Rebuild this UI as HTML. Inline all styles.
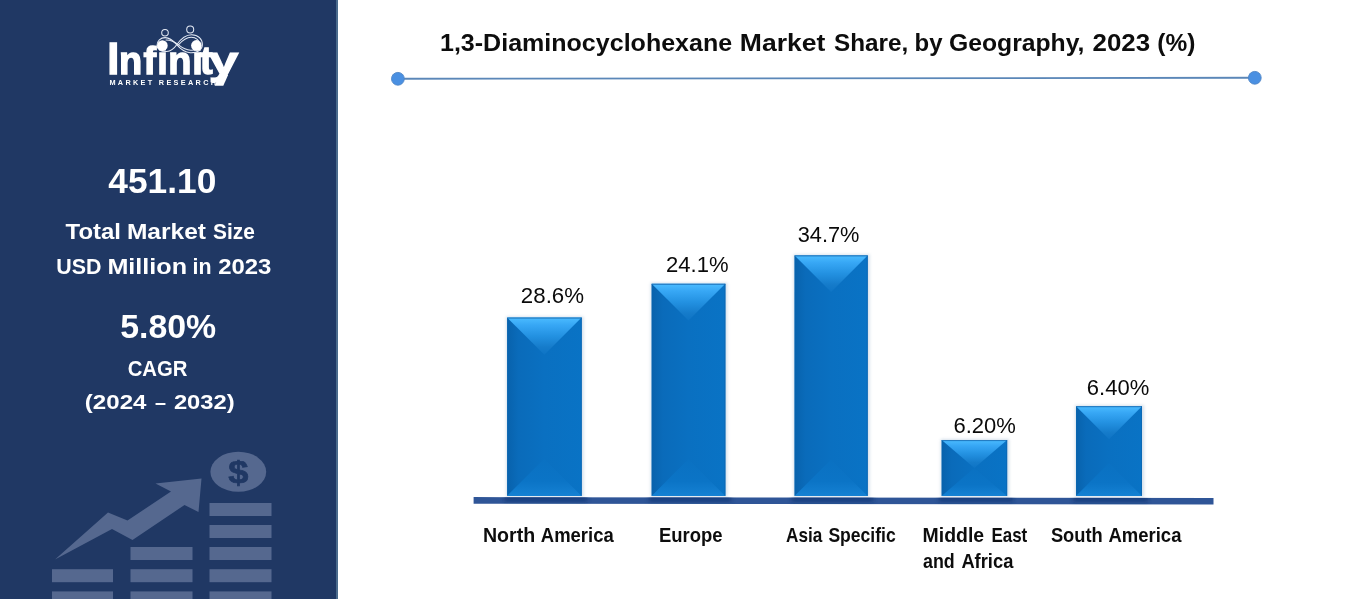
<!DOCTYPE html>
<html lang="en">
<head>
<meta charset="utf-8">
<title>1,3-Diaminocyclohexane Market Share, by Geography, 2023 (%)</title>
<style>
html,body{margin:0;padding:0;background:#fff;}
body{width:1354px;height:599px;overflow:hidden;}
svg{display:block;font-family:"Liberation Sans", sans-serif;}
</style>
</head>
<body>
<svg width="1354" height="599" viewBox="0 0 1354 599">
<defs>
<linearGradient id="gTop" x1="0" y1="0" x2="0" y2="1">
<stop offset="0" stop-color="#4bbcff"/><stop offset="0.2" stop-color="#37a7f5"/><stop offset="0.5" stop-color="#2391e1"/><stop offset="0.8" stop-color="#157bca"/><stop offset="1" stop-color="#0e74c5"/>
</linearGradient>
<linearGradient id="gBot" x1="0" y1="0" x2="0" y2="1">
<stop offset="0" stop-color="#0a71c2"/><stop offset="0.6" stop-color="#0b74c6"/><stop offset="1" stop-color="#1581d3"/>
</linearGradient>
<linearGradient id="gLeft" x1="0" y1="0" x2="1" y2="0">
<stop offset="0" stop-color="#0862ac"/><stop offset="0.3" stop-color="#0a6bba"/><stop offset="1" stop-color="#0a70c1"/>
</linearGradient>
<linearGradient id="gRight" x1="0" y1="0" x2="1" y2="0">
<stop offset="0" stop-color="#0a70c1"/><stop offset="1" stop-color="#0973c5"/>
</linearGradient>
<filter id="sh" x="-20%" y="-20%" width="140%" height="140%"><feGaussianBlur stdDeviation="1.6"/></filter>
<filter id="sh2" x="-5%" y="-200%" width="110%" height="500%"><feGaussianBlur stdDeviation="2"/></filter>
</defs>
<rect x="0" y="0" width="1354" height="599" fill="#ffffff"/>
<rect x="0" y="0" width="336" height="599" fill="#203864"/>
<rect x="336" y="0" width="2" height="599" fill="#4b6b8c"/>
<g fill="#55688f">
<rect x="52" y="569.2" width="61" height="13"/>
<rect x="52" y="591.4" width="61" height="13"/>
<rect x="130.5" y="547" width="62.0" height="13"/>
<rect x="130.5" y="569.2" width="62.0" height="13"/>
<rect x="130.5" y="591.4" width="62.0" height="13"/>
<rect x="209.5" y="503" width="62.0" height="13"/>
<rect x="209.5" y="525" width="62.0" height="13"/>
<rect x="209.5" y="547" width="62.0" height="13"/>
<rect x="209.5" y="569.2" width="62.0" height="13"/>
<rect x="209.5" y="591.4" width="62.0" height="13"/>
<polygon points="55,559.5 108,512.5 127.5,520.5 171,491.5 155.5,483.5 201.5,478.5 198.5,512 184.5,505 132.5,540 112,529"/>
<ellipse cx="238.3" cy="471.8" rx="27.9" ry="20"/>
</g>
<text transform="translate(238.2,483) scale(1.15,1)" font-size="31.5" font-weight="bold" fill="#203864" stroke="#203864" stroke-width="0.7" text-anchor="middle">$</text>
<text y="193.4" font-size="34.8" font-weight="bold" fill="#fff"><tspan x="108.30" textLength="107.97" lengthAdjust="spacingAndGlyphs">451.10</tspan></text>
<text y="238.6" font-size="21.3" font-weight="bold" fill="#fff"><tspan x="65.60" textLength="55.43" lengthAdjust="spacingAndGlyphs">Total</tspan> <tspan x="126.95" textLength="79.06" lengthAdjust="spacingAndGlyphs">Market</tspan> <tspan x="213.10" textLength="41.75" lengthAdjust="spacingAndGlyphs">Size</tspan></text>
<text y="273.5" font-size="21.3" font-weight="bold" fill="#fff"><tspan x="56.20" textLength="45.19" lengthAdjust="spacingAndGlyphs">USD</tspan> <tspan x="107.42" textLength="79.67" lengthAdjust="spacingAndGlyphs">Million</tspan> <tspan x="192.50" textLength="19.02" lengthAdjust="spacingAndGlyphs">in</tspan> <tspan x="218.20" textLength="53.23" lengthAdjust="spacingAndGlyphs">2023</tspan></text>
<text y="338" font-size="33" font-weight="bold" fill="#fff"><tspan x="120.17" textLength="95.98" lengthAdjust="spacingAndGlyphs">5.80%</tspan></text>
<text y="375.6" font-size="21.4" font-weight="bold" fill="#fff"><tspan x="127.70" textLength="59.78" lengthAdjust="spacingAndGlyphs">CAGR</tspan></text>
<text y="408.5" font-size="21" font-weight="bold" fill="#fff"><tspan x="84.85" textLength="61.58" lengthAdjust="spacingAndGlyphs">(2024</tspan> <tspan x="155.00" textLength="11.00" lengthAdjust="spacingAndGlyphs">–</tspan> <tspan x="173.90" textLength="60.82" lengthAdjust="spacingAndGlyphs">2032)</tspan></text>
<g fill="#fff" stroke="#fff" stroke-width="1.3" stroke-linejoin="miter" paint-order="stroke">
<text y="74.3" font-weight="bold" font-size="38"><tspan x="107.2" font-size="43.5">I</tspan><tspan x="119.0">n</tspan><tspan x="143.4">f</tspan><tspan x="157.3">i</tspan><tspan x="168.3">n</tspan><tspan x="192.3">i</tspan><tspan x="199.9">t</tspan></text>
<text transform="translate(208.6,74.3) scale(1.42,1)" x="0" y="0" font-weight="bold" font-size="38" stroke-width="1">y</text>
<polygon points="219.4,75 228.1,75 223.3,85.8 214.6,85.8" stroke="none"/>
</g>
<text x="109.4" y="85.3" font-size="7.3" font-weight="bold" fill="#fff" textLength="106.6" lengthAdjust="spacing">MARKET RESEARCH</text>
<g fill="none" stroke="#e3e9f4" stroke-width="1.05" stroke-linecap="round">
<path d="M176.7 44.7 C181 38.5 186 34.7 191.6 34.7 C198.2 34.7 202.4 39 202.4 44.4 C202.4 49.6 197.4 53.2 190.2 52.8 C184.2 52.4 180.2 48.8 176.7 44.7 C173 40.4 169.6 37.6 165.2 37.6 C160.4 37.6 157 41 157 45.4 C157 49.2 160.8 51.8 166.6 51.5 C171 51.2 174 48.6 176.7 44.7 Z"/>
<path d="M178.4 44.9 C182.4 40.2 186.6 37.2 191.2 37.2 C196.2 37.2 199.6 40.4 199.6 44.4 C199.6 48.2 196 50.6 190.6 50.3 C185.6 50 182 47.6 178.4 44.9 C174.6 41.6 170.4 40 166 40"/>
<circle cx="165" cy="32.7" r="3.3"/>
<circle cx="190.2" cy="29.4" r="3.5"/>
</g>
<circle cx="162.4" cy="45.6" r="5.3" fill="#fff"/>
<circle cx="196.4" cy="45.4" r="5.3" fill="#fff"/>
<text y="51.2" font-size="24.6" font-weight="bold" fill="#0d0d0d"><tspan x="439.98" textLength="292.21" lengthAdjust="spacingAndGlyphs">1,3-Diaminocyclohexane</tspan> <tspan x="739.82" textLength="85.58" lengthAdjust="spacingAndGlyphs">Market</tspan> <tspan x="834.00" textLength="74.22" lengthAdjust="spacingAndGlyphs">Share,</tspan> <tspan x="914.53" textLength="27.96" lengthAdjust="spacingAndGlyphs">by</tspan> <tspan x="949.00" textLength="135.44" lengthAdjust="spacingAndGlyphs">Geography,</tspan> <tspan x="1092.50" textLength="57.61" lengthAdjust="spacingAndGlyphs">2023</tspan> <tspan x="1157.30" textLength="38.08" lengthAdjust="spacingAndGlyphs">(%)</tspan></text>
<line x1="398" y1="78.8" x2="1255" y2="77.8" stroke="#5b87b8" stroke-width="1.9"/>
<circle cx="397.9" cy="78.8" r="6.4" fill="#4a90e2" stroke="#4f86c6" stroke-width="0.9"/>
<circle cx="1254.8" cy="77.8" r="6.4" fill="#4a90e2" stroke="#4f86c6" stroke-width="0.9"/>
<rect x="506.2" y="316.6" width="77.40000000000003" height="180.29999999999995" fill="#9fb8d0" opacity="0.45" filter="url(#sh)"/>
<rect x="650.7" y="282.8" width="76.59999999999991" height="214.09999999999997" fill="#9fb8d0" opacity="0.45" filter="url(#sh)"/>
<rect x="793.6" y="254.4" width="76.0" height="242.49999999999997" fill="#9fb8d0" opacity="0.45" filter="url(#sh)"/>
<rect x="940.7" y="439.1" width="68.39999999999998" height="57.799999999999955" fill="#9fb8d0" opacity="0.45" filter="url(#sh)"/>
<rect x="1075.1" y="405.2" width="68.90000000000009" height="91.69999999999999" fill="#9fb8d0" opacity="0.45" filter="url(#sh)"/>
<rect x="507.2" y="317.6" width="74.40000000000003" height="178.29999999999995" fill="#0a70c1"/>
<polygon points="507.2,317.6 544.4,354.80000000000007 544.4,458.69999999999993 507.2,495.9" fill="url(#gLeft)"/>
<polygon points="581.6,317.6 544.4,354.80000000000007 544.4,458.69999999999993 581.6,495.9" fill="url(#gRight)"/>
<polygon points="507.2,495.9 544.4,458.69999999999993 544.4,458.69999999999993 581.6,495.9" fill="url(#gBot)"/>
<polygon points="507.2,317.6 581.6,317.6 544.4,354.80000000000007 544.4,354.80000000000007" fill="url(#gTop)"/>
<rect x="507.2" y="317.6" width="74.40000000000003" height="1" fill="#1666ad" opacity="0.8"/>
<rect x="580.8000000000001" y="317.6" width="0.8" height="178.29999999999995" fill="#0f63ab" opacity="0.7"/>
<rect x="651.7" y="283.8" width="73.59999999999991" height="212.09999999999997" fill="#0a70c1"/>
<polygon points="651.7,283.8 688.5,320.59999999999997 688.5,459.1 651.7,495.9" fill="url(#gLeft)"/>
<polygon points="725.3,283.8 688.5,320.59999999999997 688.5,459.1 725.3,495.9" fill="url(#gRight)"/>
<polygon points="651.7,495.9 688.5,459.1 688.5,459.1 725.3,495.9" fill="url(#gBot)"/>
<polygon points="651.7,283.8 725.3,283.8 688.5,320.59999999999997 688.5,320.59999999999997" fill="url(#gTop)"/>
<rect x="651.7" y="283.8" width="73.59999999999991" height="1" fill="#1666ad" opacity="0.8"/>
<rect x="724.5" y="283.8" width="0.8" height="212.09999999999997" fill="#0f63ab" opacity="0.7"/>
<rect x="794.6" y="255.4" width="73.0" height="240.49999999999997" fill="#0a70c1"/>
<polygon points="794.6,255.4 831.1,291.9 831.1,459.4 794.6,495.9" fill="url(#gLeft)"/>
<polygon points="867.6,255.4 831.1,291.9 831.1,459.4 867.6,495.9" fill="url(#gRight)"/>
<polygon points="794.6,495.9 831.1,459.4 831.1,459.4 867.6,495.9" fill="url(#gBot)"/>
<polygon points="794.6,255.4 867.6,255.4 831.1,291.9 831.1,291.9" fill="url(#gTop)"/>
<rect x="794.6" y="255.4" width="73.0" height="1" fill="#1666ad" opacity="0.8"/>
<rect x="866.8000000000001" y="255.4" width="0.8" height="240.49999999999997" fill="#0f63ab" opacity="0.7"/>
<rect x="941.7" y="440.1" width="65.39999999999998" height="55.799999999999955" fill="#0a70c1"/>
<polygon points="941.7,440.1 974.4000000000001,468.0 974.4000000000001,468.0 941.7,495.9" fill="url(#gLeft)"/>
<polygon points="1007.1,440.1 974.4000000000001,468.0 974.4000000000001,468.0 1007.1,495.9" fill="url(#gRight)"/>
<polygon points="941.7,495.9 974.4000000000001,468.0 974.4000000000001,468.0 1007.1,495.9" fill="url(#gBot)"/>
<polygon points="941.7,440.1 1007.1,440.1 974.4000000000001,468.0 974.4000000000001,468.0" fill="url(#gTop)"/>
<rect x="941.7" y="440.1" width="65.39999999999998" height="1" fill="#1666ad" opacity="0.8"/>
<rect x="1006.3000000000001" y="440.1" width="0.8" height="55.799999999999955" fill="#0f63ab" opacity="0.7"/>
<rect x="1076.1" y="406.2" width="65.90000000000009" height="89.69999999999999" fill="#0a70c1"/>
<polygon points="1076.1,406.2 1109.05,439.15000000000003 1109.05,462.94999999999993 1076.1,495.9" fill="url(#gLeft)"/>
<polygon points="1142,406.2 1109.05,439.15000000000003 1109.05,462.94999999999993 1142,495.9" fill="url(#gRight)"/>
<polygon points="1076.1,495.9 1109.05,462.94999999999993 1109.05,462.94999999999993 1142,495.9" fill="url(#gBot)"/>
<polygon points="1076.1,406.2 1142,406.2 1109.05,439.15000000000003 1109.05,439.15000000000003" fill="url(#gTop)"/>
<rect x="1076.1" y="406.2" width="65.90000000000009" height="1" fill="#1666ad" opacity="0.8"/>
<rect x="1141.2" y="406.2" width="0.8" height="89.69999999999999" fill="#0f63ab" opacity="0.7"/>
<clipPath id="cs"><polygon points="473.6,497.1 1213.5,498 1213.5,504.6 473.6,503.7"/></clipPath>
<polygon points="473.6,497.1 1213.5,498 1213.5,504.6 473.6,503.7" fill="#2f5597"/>
<g clip-path="url(#cs)">
<rect x="504.2" y="494" width="83.40000000000003" height="8" fill="#193a78" opacity="0.8" filter="url(#sh2)"/>
<rect x="648.7" y="494" width="82.59999999999991" height="8" fill="#193a78" opacity="0.8" filter="url(#sh2)"/>
<rect x="791.6" y="494" width="82.0" height="8" fill="#193a78" opacity="0.8" filter="url(#sh2)"/>
<rect x="938.7" y="494" width="74.39999999999998" height="8" fill="#193a78" opacity="0.8" filter="url(#sh2)"/>
<rect x="1073.1" y="494" width="74.90000000000009" height="8" fill="#193a78" opacity="0.8" filter="url(#sh2)"/>
</g>
<text y="302.6" font-size="22.1" font-weight="normal" fill="#0a0a0a"><tspan x="520.89" textLength="63.16" lengthAdjust="spacingAndGlyphs">28.6%</tspan></text>
<text y="271.7" font-size="22.1" font-weight="normal" fill="#0a0a0a"><tspan x="666.00" textLength="62.54" lengthAdjust="spacingAndGlyphs">24.1%</tspan></text>
<text y="241.6" font-size="22.1" font-weight="normal" fill="#0a0a0a"><tspan x="797.70" textLength="61.74" lengthAdjust="spacingAndGlyphs">34.7%</tspan></text>
<text y="432.6" font-size="22.1" font-weight="normal" fill="#0a0a0a"><tspan x="953.50" textLength="62.44" lengthAdjust="spacingAndGlyphs">6.20%</tspan></text>
<text y="394.5" font-size="22.1" font-weight="normal" fill="#0a0a0a"><tspan x="1086.80" textLength="62.44" lengthAdjust="spacingAndGlyphs">6.40%</tspan></text>
<text y="541.6" font-size="19.3" font-weight="bold" fill="#0d0d0d"><tspan x="482.98" textLength="52.21" lengthAdjust="spacingAndGlyphs">North</tspan> <tspan x="540.80" textLength="72.93" lengthAdjust="spacingAndGlyphs">America</tspan></text>
<text y="541.6" font-size="19.3" font-weight="bold" fill="#0d0d0d"><tspan x="659.04" textLength="63.59" lengthAdjust="spacingAndGlyphs">Europe</tspan></text>
<text y="541.6" font-size="19.3" font-weight="bold" fill="#0d0d0d"><tspan x="786.00" textLength="36.25" lengthAdjust="spacingAndGlyphs">Asia</tspan> <tspan x="828.40" textLength="67.35" lengthAdjust="spacingAndGlyphs">Specific</tspan></text>
<text y="541.6" font-size="19.3" font-weight="bold" fill="#0d0d0d"><tspan x="922.59" textLength="61.53" lengthAdjust="spacingAndGlyphs">Middle</tspan> <tspan x="991.42" textLength="35.87" lengthAdjust="spacingAndGlyphs">East</tspan></text>
<text y="567.5" font-size="19.3" font-weight="bold" fill="#0d0d0d"><tspan x="923.00" textLength="31.72" lengthAdjust="spacingAndGlyphs">and</tspan> <tspan x="961.40" textLength="51.94" lengthAdjust="spacingAndGlyphs">Africa</tspan></text>
<text y="541.6" font-size="19.3" font-weight="bold" fill="#0d0d0d"><tspan x="1050.90" textLength="51.84" lengthAdjust="spacingAndGlyphs">South</tspan> <tspan x="1108.50" textLength="72.93" lengthAdjust="spacingAndGlyphs">America</tspan></text>
</svg>
</body>
</html>
